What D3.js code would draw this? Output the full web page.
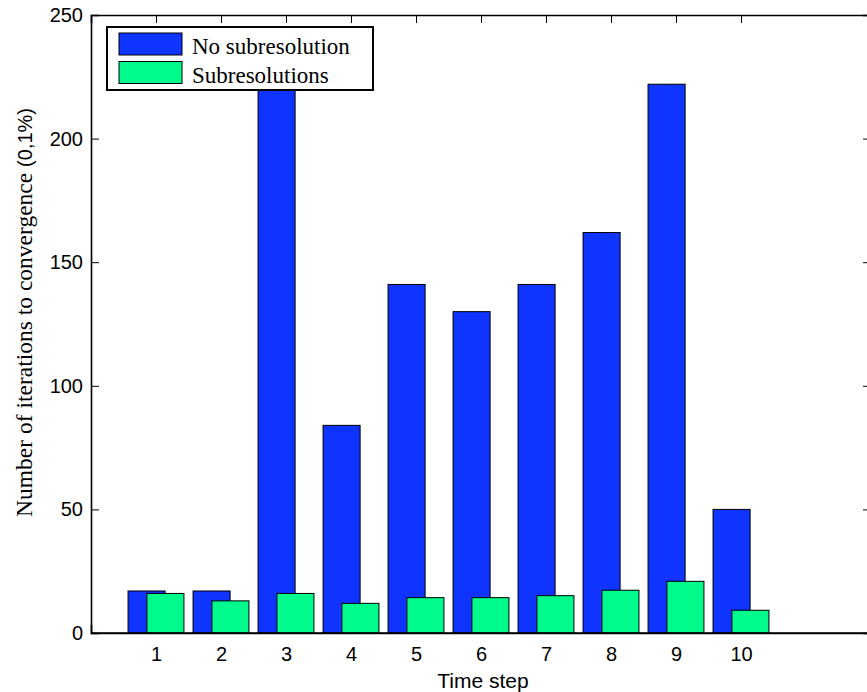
<!DOCTYPE html>
<html>
<head>
<meta charset="utf-8">
<script src="https://cdn.jsdelivr.net/npm/d3@7"></script>
<style>
  html, body { margin: 0; padding: 0; background: #fff; }
  svg { display: block; }
</style>
</head>
<body>
<div id="chart"></div>
<script>
(function() {
  // values
  var steps = [1, 2, 3, 4, 5, 6, 7, 8, 9, 10];
  var noSub = [17, 17, 235, 84, 141, 130, 141, 162, 222, 50];
  var withSub = [16, 13, 16, 12, 14.3, 14.3, 15.1, 17.3, 20.9, 9.2];
  var seriesNames = ['No subresolution', 'Subresolutions'];
  var seriesColors = ['#0f34ff', '#00fa8c'];
  var yTicks = [0, 50, 100, 150, 200, 250];

  var WIDTH = 867, HEIGHT = 692;
  var left = 91, right = 871, top = 15, bottom = 633;

  var svg = d3.select('#chart').append('svg')
    .attr('width', WIDTH)
    .attr('height', HEIGHT);

  var x = d3.scaleLinear().domain([0, 12]).range([left, right]);
  var y = d3.scaleLinear().domain([0, 250]).range([bottom, top]);

  var BAR_W = 0.57, OFFSET = 0.145;

  // axes first so the bars hide the ticks, as in the original
  var xBottom = d3.axisBottom(x).tickValues(steps).tickSize(-8).tickPadding(14)
    .tickFormat(d3.format('d'));
  var xTop = d3.axisTop(x).tickValues(steps).tickSize(-8).tickFormat('');
  var yLeft = d3.axisLeft(y).tickValues(yTicks).tickSize(-8).tickPadding(8);
  var yRight = d3.axisRight(y).tickValues(yTicks).tickSize(-8).tickFormat('');

  var gx = svg.append('g').attr('transform', 'translate(0,' + bottom + ')').call(xBottom);
  var gxt = svg.append('g').attr('transform', 'translate(0,' + top + ')').call(xTop);
  var gy = svg.append('g').attr('transform', 'translate(' + left + ',0)').call(yLeft);
  var gyr = svg.append('g').attr('transform', 'translate(' + right + ',0)').call(yRight);

  [gx, gxt, gy, gyr].forEach(function(g) {
    g.select('.domain').attr('stroke', '#000').attr('stroke-width', 1.6);
    g.selectAll('.tick line').attr('stroke', '#000').attr('stroke-width', 1);
    g.selectAll('text')
      .style('font-family', '"Liberation Sans", Arial, sans-serif')
      .style('font-size', '20px')
      .attr('fill', '#000');
  });
  gx.selectAll('.tick text').attr('dy', '0.71em');

  // clip bars to the axes box
  svg.append('clipPath').attr('id', 'box')
    .append('rect')
      .attr('x', left).attr('y', top)
      .attr('width', right - left).attr('height', bottom - top);

  var plot = svg.append('g');
  var series = [noSub, withSub];
  series.forEach(function(vals, s) {
    plot.append('g')
      .attr('clip-path', 'url(#box)')
      .selectAll('rect')
      .data(steps)
      .enter()
        .append('rect')
        .attr('x', function(d) { return x(d + (s === 0 ? -OFFSET : OFFSET) - BAR_W / 2); })
        .attr('width', function(d) { return x(BAR_W) - x(0); })
        .attr('y', function(d, i) { return y(vals[i]); })
        .attr('height', function(d, i) { return y(0) - y(vals[i]); })
        .style('fill', seriesColors[s])
        .style('stroke', '#000')
        .style('stroke-width', 1);
  });

  // baseline back on top of the bars
  svg.append('line')
    .attr('x1', left).attr('x2', right)
    .attr('y1', y(0)).attr('y2', y(0))
    .style('stroke', '#000')
    .style('stroke-width', 1.6);

  // axis titles
  svg.append('text')
    .attr('x', 483)
    .attr('y', 688)
    .attr('text-anchor', 'middle')
    .style('font-family', '"Liberation Sans", Arial, sans-serif')
    .style('font-size', '21px')
    .text('Time step');

  var yl = svg.append('text')
    .attr('transform', 'translate(32,108) rotate(-90)')
    .attr('text-anchor', 'end')
    .style('font-family', '"Liberation Serif", "Times New Roman", serif')
    .style('font-size', '23.5px');
  yl.append('tspan').text('Number of iterations to convergence ');
  yl.append('tspan')
    .style('font-family', '"Liberation Sans", Arial, sans-serif')
    .style('font-size', '20px')
    .text('(0,1%)');

  // legend
  var legend = svg.append('g');
  legend.append('rect')
    .attr('x', 107).attr('y', 27)
    .attr('width', 266).attr('height', 63)
    .style('fill', '#fff')
    .style('stroke', '#000')
    .style('stroke-width', 2);

  var items = legend.selectAll('.item')
    .data(seriesNames)
    .enter()
      .append('g')
      .attr('class', 'item')
      .attr('transform', function(d, idx) {
        return 'translate(0,' + (idx * 28.5) + ')';
      });

  items.append('rect')
    .attr('x', 119).attr('y', 33)
    .attr('width', 63).attr('height', 22)
    .style('fill', function(d, idx) { return seriesColors[idx]; })
    .style('stroke', '#000')
    .style('stroke-width', 1);

  items.append('text')
    .attr('x', 192).attr('y', 54)
    .style('font-family', '"Liberation Serif", "Times New Roman", serif')
    .style('font-size', '23px')
    .text(function(d) { return d; });
})();
</script>
</body>
</html>
